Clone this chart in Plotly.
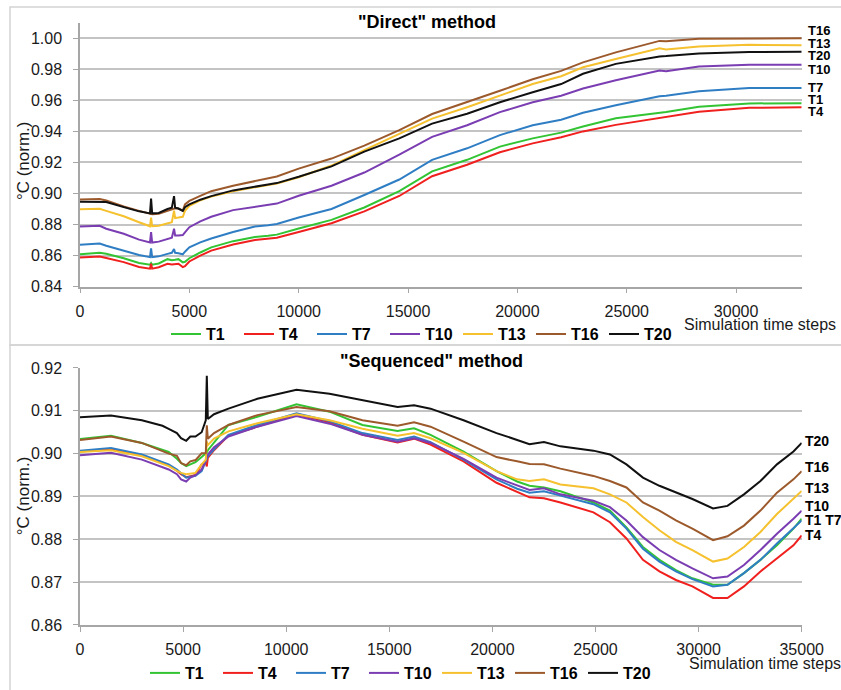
import plotly.graph_objects as go

# ---------------------------------------------------------------- data
series_names = ["T1", "T4", "T7", "T10", "T13", "T16", "T20"]
series_colors = ["#33c433", "#f0201e", "#2f7ec4", "#7a3db2", "#f6c12e", "#9c5a2c", "#111111"]

# "Direct" method
steps_direct = [0, 900, 1200, 2000, 2700, 3200, 3250, 3300, 3600, 4000, 4200, 4300, 4350,
                4500, 4700, 4800, 5000, 5500, 6000, 7000, 8000, 8600, 9000, 10000, 11500,
                13000, 14600, 16100, 17700, 19200, 20700, 22000, 23000, 24500, 26500,
                26800, 28300, 30600, 33000]

direct_T1 = [0.8608, 0.8619, 0.8612, 0.8583, 0.8552, 0.8541, 0.8552, 0.8541, 0.8549, 0.8577,
             0.8570, 0.8575, 0.8573, 0.8577, 0.8556, 0.8560, 0.8583, 0.8620, 0.8653, 0.8693,
             0.8720, 0.8728, 0.8735, 0.8775, 0.8830, 0.8910, 0.9015, 0.9143, 0.9217, 0.9302,
             0.9355, 0.9392, 0.9432, 0.9485, 0.9521, 0.9525, 0.9559, 0.9580, 0.9582]
direct_T4 = [0.8587, 0.8594, 0.8585, 0.8558, 0.8526, 0.8516, 0.8547, 0.8516, 0.8525, 0.8547,
             0.8542, 0.8545, 0.8545, 0.8547, 0.8526, 0.8532, 0.8562, 0.8600, 0.8632, 0.8672,
             0.8700, 0.8708, 0.8715, 0.8752, 0.8808, 0.8885, 0.8984, 0.9111, 0.9185, 0.9266,
             0.9323, 0.9362, 0.9400, 0.9442, 0.9485, 0.9490, 0.9527, 0.9552, 0.9555]
direct_T7 = [0.8670, 0.8678, 0.8663, 0.8632, 0.8604, 0.8590, 0.8646, 0.8590, 0.8595, 0.8611,
             0.8618, 0.8642, 0.8618, 0.8615, 0.8608, 0.8625, 0.8653, 0.8685, 0.8710, 0.8752,
             0.8787, 0.8795, 0.8804, 0.8845, 0.8900, 0.8990, 0.9090, 0.9217, 0.9291, 0.9376,
             0.9440, 0.9475, 0.9520, 0.9569, 0.9627, 0.9630, 0.9659, 0.9680, 0.9680]
direct_T10 = [0.8787, 0.8792, 0.8773, 0.8741, 0.8703, 0.8684, 0.8752, 0.8684, 0.8690, 0.8710,
              0.8715, 0.8773, 0.8730, 0.8730, 0.8732, 0.8750, 0.8783, 0.8820, 0.8850, 0.8893,
              0.8914, 0.8925, 0.8935, 0.8985, 0.9050, 0.9135, 0.9250, 0.9365, 0.9440, 0.9524,
              0.9588, 0.9630, 0.9676, 0.9729, 0.9792, 0.9788, 0.9818, 0.9830, 0.9830]
direct_T13 = [0.8899, 0.8902, 0.8888, 0.8853, 0.8815, 0.8789, 0.8845, 0.8789, 0.8792, 0.8808,
              0.8815, 0.8890, 0.8842, 0.8845, 0.8850, 0.8888, 0.8920, 0.8956, 0.8980, 0.9015,
              0.9042, 0.9055, 0.9065, 0.9105, 0.9180, 0.9280, 0.9386, 0.9482, 0.9556, 0.9630,
              0.9705, 0.9755, 0.9813, 0.9866, 0.9936, 0.9928, 0.9947, 0.9958, 0.9955]
direct_T16 = [0.8962, 0.8964, 0.8955, 0.8916, 0.8888, 0.8867, 0.8866, 0.8866, 0.8870, 0.8890,
              0.8900, 0.8905, 0.8905, 0.8903, 0.8890, 0.8930, 0.8952, 0.8985, 0.9015, 0.9050,
              0.9080, 0.9095, 0.9110, 0.9160, 0.9225, 0.9308, 0.9408, 0.9512, 0.9588, 0.9662,
              0.9736, 0.9790, 0.9845, 0.9909, 0.9983, 0.9980, 0.9996, 1.0000, 1.0000]
direct_T20 = [0.8947, 0.8948, 0.8945, 0.8912, 0.8885, 0.8872, 0.8968, 0.8872, 0.8875, 0.8900,
              0.8908, 0.8983, 0.8908, 0.8903, 0.8888, 0.8912, 0.8930, 0.8960, 0.8983, 0.9020,
              0.9046, 0.9058, 0.9067, 0.9108, 0.9175, 0.9270, 0.9355, 0.9450, 0.9514, 0.9588,
              0.9652, 0.9705, 0.9771, 0.9835, 0.9883, 0.9885, 0.9902, 0.9911, 0.9913]

# "Sequenced" method
steps_sequenced = [0, 1500, 3000, 4000, 4300, 4700, 4900, 5150, 5350, 5600, 5900, 6100, 6150,
                   6200, 6500, 7200, 8600, 10500, 12100, 13700, 15400, 16200, 17000, 18600,
                   20200, 21200, 21800, 22500, 23300, 24900, 25700, 26500, 27300, 28100,
                   28900, 29700, 30700, 31400, 32200, 33000, 33800, 34600, 35000]

seq_T1 = [0.9034, 0.9042, 0.9025, 0.9008, 0.9004, 0.8988, 0.8978, 0.8971, 0.8975, 0.8980,
          0.8992, 0.9000, 0.9003, 0.9008, 0.9025, 0.9067, 0.9086, 0.9115, 0.9098, 0.9067,
          0.9053, 0.9059, 0.9044, 0.9005, 0.8959, 0.8935, 0.8925, 0.8921, 0.8912, 0.8886,
          0.8867, 0.8828, 0.8782, 0.8752, 0.8728, 0.8709, 0.8694, 0.8694, 0.8721, 0.8752,
          0.8786, 0.8825, 0.8848]
seq_T4 = [0.9005, 0.9010, 0.8996, 0.8977, 0.8973, 0.8960, 0.8952, 0.8945, 0.8948, 0.8950,
          0.8975, 0.8978, 0.8970, 0.8990, 0.9008, 0.9042, 0.9063, 0.9092, 0.9073, 0.9044,
          0.9026, 0.9035, 0.9021, 0.8982, 0.8932, 0.8910, 0.8898, 0.8896, 0.8886, 0.8863,
          0.8840, 0.8802, 0.8752, 0.8725, 0.8705, 0.8690, 0.8663, 0.8663, 0.8690, 0.8725,
          0.8755, 0.8786, 0.8809]
seq_T7 = [0.9007, 0.9013, 0.8998, 0.8979, 0.8975, 0.8963, 0.8955, 0.8944, 0.8946, 0.8948,
          0.8959, 0.8980, 0.8988, 0.8994, 0.9010, 0.9044, 0.9067, 0.9094, 0.9076, 0.9048,
          0.9032, 0.9040, 0.9027, 0.8986, 0.8940, 0.8918, 0.8909, 0.8912, 0.8902, 0.8882,
          0.8863, 0.8825, 0.8778, 0.8748, 0.8725, 0.8707, 0.8690, 0.8694, 0.8721, 0.8752,
          0.8790, 0.8825, 0.8844]
seq_T10 = [0.8996, 0.9002, 0.8986, 0.8967, 0.8963, 0.8952, 0.8940, 0.8935, 0.8944, 0.8950,
           0.8963, 0.8985, 0.8992, 0.8998, 0.9015, 0.9040, 0.9063, 0.9088, 0.9070, 0.9044,
           0.9028, 0.9036, 0.9025, 0.8988, 0.8944, 0.8925, 0.8915, 0.8919, 0.8905, 0.8890,
           0.8875, 0.8844, 0.8805, 0.8775, 0.8752, 0.8732, 0.8709, 0.8713, 0.8740, 0.8775,
           0.8813, 0.8848, 0.8867]
seq_T13 = [0.9004, 0.9008, 0.8994, 0.8975, 0.8971, 0.8960, 0.8955, 0.8952, 0.8953, 0.8955,
           0.8975, 0.8986, 0.9028, 0.9020, 0.9035, 0.9052, 0.9071, 0.9092, 0.9078, 0.9058,
           0.9042, 0.9048, 0.9036, 0.9002, 0.8959, 0.8940, 0.8936, 0.8940, 0.8928, 0.8919,
           0.8905, 0.8886, 0.8852, 0.8821, 0.8794, 0.8775, 0.8748, 0.8755, 0.8782, 0.8817,
           0.8859, 0.8894, 0.8913]
seq_T16 = [0.9032, 0.9040, 0.9025, 0.9005, 0.9000, 0.8995, 0.8978, 0.8973, 0.8982, 0.8985,
           0.9001, 0.9001, 0.9066, 0.9035, 0.9048, 0.9067, 0.9090, 0.9109, 0.9099, 0.9078,
           0.9065, 0.9073, 0.9063, 0.9028, 0.8992, 0.8982, 0.8976, 0.8975, 0.8965, 0.8948,
           0.8936, 0.8921, 0.8886, 0.8867, 0.8844, 0.8825, 0.8798, 0.8807, 0.8832, 0.8867,
           0.8909, 0.8940, 0.8959]
seq_T20 = [0.9085, 0.9089, 0.9078, 0.9065, 0.9058, 0.9048, 0.9036, 0.9030, 0.9040, 0.9040,
           0.9050, 0.9078, 0.9182, 0.9081, 0.9092, 0.9105, 0.9128, 0.9149, 0.9140, 0.9125,
           0.9109, 0.9113, 0.9105, 0.9078, 0.9048, 0.9032, 0.9022, 0.9027, 0.9017, 0.9007,
           0.8998, 0.8975, 0.8944, 0.8925, 0.8909, 0.8894, 0.8872, 0.8878, 0.8905, 0.8936,
           0.8975, 0.9005, 0.9025]

direct_values = [direct_T1, direct_T4, direct_T7, direct_T10, direct_T13, direct_T16, direct_T20]
sequenced_values = [seq_T1, seq_T4, seq_T7, seq_T10, seq_T13, seq_T16, seq_T20]

direct_yticks = [0.84, 0.86, 0.88, 0.90, 0.92, 0.94, 0.96, 0.98, 1.00]
sequenced_yticks = [0.86, 0.87, 0.88, 0.89, 0.90, 0.91, 0.92]
direct_xticks = [0, 5000, 10000, 15000, 20000, 25000, 30000]
sequenced_xticks = [0, 5000, 10000, 15000, 20000, 25000, 30000, 35000]

# end-of-line labels (text, vertical position in data units)
direct_end_labels = [("T16", 1.0053), ("T13", 0.9968), ("T20", 0.9887), ("T10", 0.9798),
                     ("T7", 0.9680), ("T1", 0.9605), ("T4", 0.9525)]
sequenced_end_labels = [("T20", 0.9030), ("T16", 0.8968), ("T13", 0.8919), ("T10", 0.8878),
                        ("T1 T7", 0.8844), ("T4", 0.8811)]

# ---------------------------------------------------------------- figure
W, H = 841, 690
FONT = "Liberation Sans, Arial, sans-serif"
GRID = "#c4c4c4"
AXIS = "#a6a6a6"


def px_x(p):
    return p / W


def px_y(p):
    return 1 - p / H


fig = go.Figure()

for name, color, vals in zip(series_names, series_colors, direct_values):
    fig.add_trace(go.Scatter(x=steps_direct, y=vals, mode="lines", name=name,
                             line=dict(color=color, width=2),
                             xaxis="x", yaxis="y", legend="legend"))

for name, color, vals in zip(series_names, series_colors, sequenced_values):
    fig.add_trace(go.Scatter(x=steps_sequenced, y=vals, mode="lines", name=name,
                             line=dict(color=color, width=2),
                             xaxis="x2", yaxis="y2", legend="legend2"))

tick_font = dict(family=FONT, size=16, color="#1a1a1a")
common_x = dict(showgrid=False, zeroline=False, showline=True, linecolor=AXIS, linewidth=1.5,
                ticks="outside", ticklen=5, tickcolor=AXIS, tickfont=tick_font, tickformat="d",
                ticklabelstandoff=4, automargin=False, fixedrange=True)
common_y = dict(showgrid=True, gridcolor=GRID, gridwidth=1.5, zeroline=False, showline=True,
                linecolor=AXIS, linewidth=1.5, ticks="outside", ticklen=5, tickcolor=AXIS,
                tickfont=tick_font, tickformat=".2f", ticklabelstandoff=8,
                automargin=False, fixedrange=True)

x_dom = [px_x(80), px_x(801.7)]

legend_common = dict(orientation="h", xanchor="left", yanchor="middle",
                     font=dict(family=FONT, size=16, color="#000", weight="bold"),
                     bgcolor="rgba(0,0,0,0)", itemwidth=30, entrywidth=28,
                     traceorder="normal")

fig.update_layout(
    width=W, height=H,
    margin=dict(l=0, r=0, t=0, b=0),
    paper_bgcolor="white", plot_bgcolor="white",
    xaxis=dict(domain=x_dom, anchor="y", range=[0, 33000], tickvals=direct_xticks, **common_x),
    yaxis=dict(domain=[px_y(290), px_y(23)], anchor="x", range=[0.84, 1.01],
               tickvals=direct_yticks, **common_y),
    xaxis2=dict(domain=x_dom, anchor="y2", range=[0, 35000], tickvals=sequenced_xticks, **common_x),
    yaxis2=dict(domain=[px_y(632.3), px_y(372.3)], anchor="x2", range=[0.86, 0.92],
                tickvals=sequenced_yticks, **common_y),
    legend=dict(x=px_x(166), y=px_y(338), **legend_common),
    legend2=dict(x=px_x(145), y=px_y(681), **legend_common),
    showlegend=True,
)

# panel frames
for top, bottom in [(7, 349), (349, 700)]:
    fig.add_shape(type="rect", xref="paper", yref="paper",
                  x0=px_x(10), x1=1.02, y0=px_y(bottom), y1=px_y(top),
                  line=dict(color="#d4d4d4", width=1.5), layer="below")

annotations = []
# panel titles
annotations.append(dict(text='"Direct" method', x=px_x(427), y=px_y(22.5), xref="paper", yref="paper",
                        showarrow=False, xanchor="center", yanchor="middle",
                        font=dict(family=FONT, size=18, color="#000", weight="bold")))
annotations.append(dict(text='"Sequenced" method', x=px_x(431), y=px_y(365), xref="paper", yref="paper",
                        showarrow=False, xanchor="center", yanchor="middle",
                        font=dict(family=FONT, size=18, color="#000", weight="bold")))
# y-axis titles
for yc in (163, 502):
    annotations.append(dict(text="°C (norm.)", x=px_x(23), y=px_y(yc), xref="paper", yref="paper",
                            showarrow=False, textangle=-90, xanchor="center", yanchor="middle",
                            font=dict(family=FONT, size=17, color="#1a1a1a")))
# x-axis titles
annotations.append(dict(text="Simulation time steps", x=px_x(838), y=px_y(328), xref="paper",
                        yref="paper", showarrow=False, xanchor="right", yanchor="middle",
                        font=dict(family=FONT, size=16, color="#1a1a1a")))
annotations.append(dict(text="Simulation time steps", x=px_x(687), y=px_y(671), xref="paper",
                        yref="paper", showarrow=False, xanchor="left", yanchor="middle",
                        font=dict(family=FONT, size=16, color="#1a1a1a")))
# series labels at the right end of the curves
for text, yv in direct_end_labels:
    annotations.append(dict(text=text, x=px_x(806), y=yv, xref="paper", yref="y", showarrow=False,
                            xanchor="left", yanchor="middle",
                            font=dict(family=FONT, size=13, color="#000", weight="bold")))
for text, yv in sequenced_end_labels:
    annotations.append(dict(text=text, x=px_x(803), y=yv, xref="paper", yref="y2", showarrow=False,
                            xanchor="left", yanchor="middle",
                            font=dict(family=FONT, size=14, color="#000", weight="bold")))

fig.update_layout(annotations=annotations)

fig.write_html("out.html")
